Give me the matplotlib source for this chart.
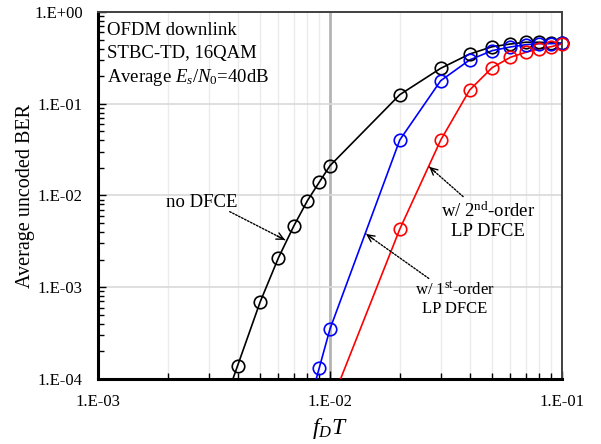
import numpy as np
import matplotlib.pyplot as plt
from matplotlib.ticker import FixedLocator, FixedFormatter, LogLocator, NullFormatter

plt.rcParams['font.family'] = ['Liberation Serif', 'DejaVu Serif']
plt.rcParams['mathtext.fontset'] = 'custom'
plt.rcParams['mathtext.rm'] = 'Liberation Serif'
plt.rcParams['mathtext.it'] = 'Liberation Serif:italic'

# f_D*T values; the first entry of each series lies below 1E-4 (line only, marker clipped)
fdt_none = [0.003, 0.004, 0.005, 0.006, 0.007, 0.008, 0.009, 0.01,
            0.02, 0.03, 0.04, 0.05, 0.06, 0.07, 0.08, 0.09, 0.1]
ber_none = [1.8e-5, 1.40e-4, 6.9e-4, 2.1e-3, 4.7e-3, 8.8e-3, 1.40e-2, 2.11e-2,
            0.1255, 0.243, 0.348, 0.418, 0.448, 0.468, 0.468, 0.463, 0.456]

fdt_1st = [0.008, 0.009, 0.01, 0.02, 0.03, 0.04, 0.05, 0.06, 0.07, 0.08, 0.09, 0.1]
ber_1st = [4.5e-5, 1.33e-4, 3.5e-4, 0.0403, 0.178, 0.300, 0.379, 0.416, 0.440,
           0.452, 0.452, 0.456]

fdt_2nd = [0.01, 0.02, 0.03, 0.04, 0.05, 0.06, 0.07, 0.08, 0.09, 0.1]
ber_2nd = [5.1e-5, 4.3e-3, 0.040, 0.141, 0.247, 0.321, 0.364, 0.398, 0.419, 0.448]

xticks = [1e-3, 1e-2, 1e-1]
xtick_labels = ['1.E-03', '1.E-02', '1.E-01']
yticks = [1e-4, 1e-3, 1e-2, 1e-1, 1e0]
ytick_labels = ['1.E-04', '1.E-03', '1.E-02', '1.E-01', '1.E+00']

fig = plt.figure(figsize=(6.01, 4.44), dpi=100)
ax = fig.add_axes([0.163, 0.1464, 0.772, 0.8266])

ax.set_xscale('log')
ax.set_yscale('log')
ax.set_xlim(1e-3, 1e-1)
ax.set_ylim(1e-4, 1e0)

# grid
ax.set_axisbelow(True)
ax.xaxis.grid(True, which='minor', color='#ebebeb', lw=1.0)
ax.xaxis.grid(True, which='major', color='#b4b4b4', lw=2.0)
ax.yaxis.grid(True, which='major', color='#d9d9d9', lw=1.2)

for x, y, c in [(fdt_none, ber_none, 'black'), (fdt_1st, ber_1st, '#0000ff'),
                (fdt_2nd, ber_2nd, '#ff0000')]:
    ax.plot(x, y, color=c, lw=1.2, zorder=3)
    ax.plot(x[1:], y[1:], ls='none', marker='o', ms=9, mfc='none', mec=c,
            mew=1.2, clip_on=False, zorder=4)

# ticks
ax.xaxis.set_major_locator(FixedLocator(xticks))
ax.xaxis.set_major_formatter(FixedFormatter(xtick_labels))
ax.yaxis.set_major_locator(FixedLocator(yticks))
ax.yaxis.set_major_formatter(FixedFormatter(ytick_labels))
ax.xaxis.set_minor_locator(LogLocator(base=10, subs=np.arange(2, 10)))
ax.yaxis.set_minor_locator(LogLocator(base=10, subs=np.arange(2, 10)))
ax.xaxis.set_minor_formatter(NullFormatter())
ax.yaxis.set_minor_formatter(NullFormatter())
ax.tick_params(which='both', direction='in', top=False, right=False,
               labelsize=12, pad=11, width=1.0)
ax.tick_params(which='major', length=6)
ax.tick_params(which='minor', length=4)

for s in ['left', 'bottom']:
    ax.spines[s].set_linewidth(2.2)
    ax.spines[s].set_color('black')
for s in ['top', 'right']:
    ax.spines[s].set_linewidth(1.4)
    ax.spines[s].set_color('#404040')

ax.set_ylabel('Average uncoded BER', fontsize=14.5, labelpad=-1)
ax.set_xlabel(r'$f_DT$', fontsize=17, labelpad=4)

# info text
ax.text(0.019, 0.937, 'OFDM downlink', transform=ax.transAxes, fontsize=13.5)
ax.text(0.019, 0.874, 'STBC-TD, 16QAM', transform=ax.transAxes, fontsize=13.5)
ax.text(0.019, 0.810, r'Average $E_s$/$N_0$=40dB', transform=ax.transAxes,
        fontsize=13.5)


def note(text, xy_text, tail, tip, size):
    ax.text(xy_text[0], xy_text[1], text, transform=ax.transAxes, fontsize=size,
            ha='center', va='center', linespacing=1.15)
    ax.annotate('', xy=tip, xytext=tail, xycoords='axes fraction',
                textcoords='axes fraction',
                arrowprops=dict(arrowstyle='-', ls=(0, (1.2, 1.2)), lw=1.0,
                                color='black', shrinkA=0, shrinkB=0))
    d = np.array(tip) - np.array(tail)
    back = np.array(tip) - d / np.linalg.norm(d) * 0.02
    ax.annotate('', xy=tip, xytext=tuple(back), xycoords='axes fraction',
                textcoords='axes fraction',
                arrowprops=dict(arrowstyle='->,head_length=0.5,head_width=0.25',
                                lw=1.0, color='black', shrinkA=0, shrinkB=0))


note('no DFCE', (0.224, 0.482), (0.284, 0.456), (0.403, 0.379), 13.5)
note('w/ 2$^{\\mathrm{nd}}$-order\nLP DFCE', (0.840, 0.431), (0.787, 0.497),
     (0.714, 0.578), 13.5)
note('w/ 1$^{\\mathrm{st}}$-order\nLP DFCE', (0.769, 0.218), (0.713, 0.274),
     (0.578, 0.395), 12)

fig.savefig('out.png', dpi=100)
